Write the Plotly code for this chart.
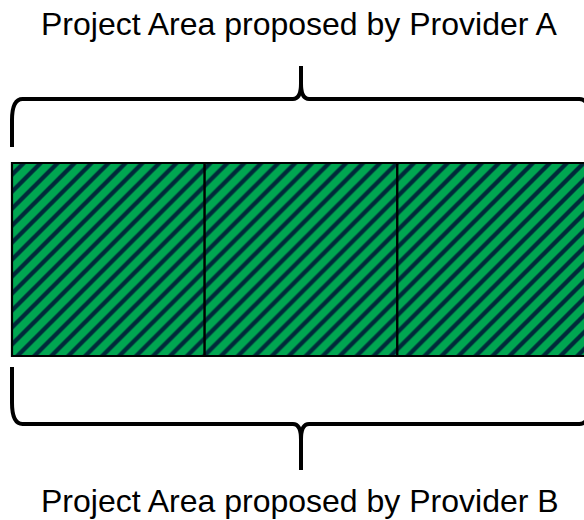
import plotly.graph_objects as go

# ---- data ----
cells = ["Cell 1", "Cell 2", "Cell 3"]
cell_heights = [1, 1, 1]
label_top = "Project Area proposed by Provider A"
label_bottom = "Project Area proposed by Provider B"

GREEN = "#00a651"
DARK = "#002a3a"

n = len(cells)
x_pos = [i + 0.5 for i in range(n)]
x0, x1 = 0, n
xm = (x0 + x1) / 2
h = max(cell_heights)

fig = go.Figure()
fig.add_trace(go.Bar(
    x=x_pos, y=cell_heights, base=0, width=1,
    hoverinfo="skip",
    marker=dict(
        color=GREEN,
        line=dict(color="black", width=2.2),
        pattern=dict(shape="/", size=12, solidity=0.36,
                     fgcolor=DARK, bgcolor=GREEN, fillmode="replace"),
    ),
))


def brace(y_leg, y_h, y_tip, sgn):
    """sgn=+1 brace opens downward (top brace), -1 opens upward (bottom)."""
    leg_end = y_h - sgn * 0.11
    c1 = y_h - sgn * 0.04
    tip_start = y_h + sgn * 0.08
    tip_c = y_h + sgn * 0.035
    r = 0.055
    cw = 0.042
    p = (
        f"M {x0},{y_leg} L {x0},{leg_end} "
        f"C {x0},{c1} {x0+0.015},{y_h} {x0+r},{y_h} "
        f"L {xm-cw},{y_h} "
        f"C {xm-0.008},{y_h} {xm},{tip_c} {xm},{tip_start} "
        f"L {xm},{y_tip} L {xm},{tip_start} "
        f"C {xm},{tip_c} {xm+0.008},{y_h} {xm+cw},{y_h} "
        f"L {x1-r},{y_h} "
        f"C {x1-0.015},{y_h} {x1},{c1} {x1},{leg_end} "
        f"L {x1},{y_leg}"
    )
    return p


fig.add_shape(type="path", xref="x", yref="y",
              path=brace(h + 0.083, h + 0.332, h + 0.503, +1),
              line=dict(color="black", width=4))
fig.add_shape(type="path", xref="x", yref="y",
              path=brace(-0.057, -0.352, -0.591, -1),
              line=dict(color="black", width=4))

font = dict(family="Liberation Sans, Arial, Helvetica, sans-serif", size=32, color="black")
fig.add_annotation(x=xm, y=h + 0.72, xref="x", yref="y", text=label_top, xshift=-1.5,
                   showarrow=False, font=font, xanchor="center", yanchor="middle")
fig.add_annotation(x=xm, y=-0.751, xref="x", yref="y", text=label_bottom, xshift=-1.5,
                   showarrow=False, font=font, xanchor="center", yanchor="middle")

fig.update_layout(
    width=584, height=520,
    margin=dict(l=0, r=0, t=0, b=0),
    paper_bgcolor="white", plot_bgcolor="white",
    showlegend=False, bargap=0,
)
fig.update_xaxes(range=[-0.0623, 2.9689], visible=False, fixedrange=True)
fig.update_yaxes(range=[-0.8497, 1.8446], visible=False, fixedrange=True)

fig.write_html(
    "out.html",
    config={"displayModeBar": False, "staticPlot": True},
    post_script="document.body.style.margin='0';document.body.style.overflow='hidden';",
)
